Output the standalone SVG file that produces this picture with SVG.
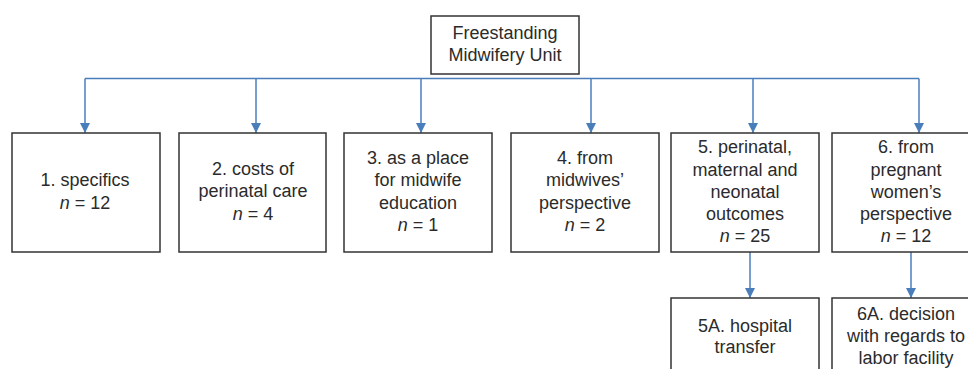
<svg xmlns="http://www.w3.org/2000/svg" width="968" height="369" viewBox="0 0 968 369">
<style>
.box{fill:#fff;stroke:#333;stroke-width:1.5}
.t{font-family:"Liberation Sans",Arial,sans-serif;font-size:18px;fill:#2b2b2b;text-anchor:middle}
.c{fill:none;stroke:#4a7ebb;stroke-width:1.5}
</style>
<defs>
<marker id="ah" markerWidth="10" markerHeight="10" refX="10" refY="5" orient="auto" markerUnits="userSpaceOnUse" viewBox="0 0 10 10">
<path d="M0,0 L10,5 L0,10 z" fill="#4a7ebb"/>
</marker>
</defs>
<rect width="968" height="369" fill="#fff"/>
<g id="connectors">
<path class="c" d="M85,78.5 H919"/>
<path class="c" d="M85,78.5 V133" marker-end="url(#ah)"/>
<path class="c" d="M256,78.5 V133" marker-end="url(#ah)"/>
<path class="c" d="M421,78.5 V133" marker-end="url(#ah)"/>
<path class="c" d="M591,78.5 V133" marker-end="url(#ah)"/>
<path class="c" d="M753,78.5 V133" marker-end="url(#ah)"/>
<path class="c" d="M919,78.5 V133" marker-end="url(#ah)"/>
<path class="c" d="M750,252 V298" marker-end="url(#ah)"/>
<path class="c" d="M911,252 V298" marker-end="url(#ah)"/>
</g>
<g id="root">
<rect class="box" x="431" y="16" width="148" height="58"/>
<text class="t" x="505" y="38.5">Freestanding</text>
<text class="t" x="505" y="61">Midwifery Unit</text>
</g>
<g id="n1">
<rect class="box" x="12" y="133" width="148" height="119"/>
<text class="t" x="85" y="186">1. specifics</text>
<text class="t" x="85" y="208.5"><tspan font-style="italic">n</tspan> = 12</text>
</g>
<g id="n2">
<rect class="box" x="179" y="133" width="147" height="119"/>
<text class="t" x="253" y="174.5">2. costs of</text>
<text class="t" x="253" y="197">perinatal care</text>
<text class="t" x="253" y="219.5"><tspan font-style="italic">n</tspan> = 4</text>
</g>
<g id="n3">
<rect class="box" x="344" y="133" width="148" height="119"/>
<text class="t" x="418" y="163.5">3. as a place</text>
<text class="t" x="418" y="186">for midwife</text>
<text class="t" x="418" y="208.5">education</text>
<text class="t" x="418" y="231"><tspan font-style="italic">n</tspan> = 1</text>
</g>
<g id="n4">
<rect class="box" x="511" y="133" width="148" height="119"/>
<text class="t" x="585" y="163.5">4. from</text>
<text class="t" x="585" y="186">midwives’</text>
<text class="t" x="585" y="208.5">perspective</text>
<text class="t" x="585" y="231"><tspan font-style="italic">n</tspan> = 2</text>
</g>
<g id="n5">
<rect class="box" x="671" y="133" width="148" height="119"/>
<text class="t" x="745" y="153">5. perinatal,</text>
<text class="t" x="745" y="175.5">maternal and</text>
<text class="t" x="745" y="198">neonatal</text>
<text class="t" x="745" y="220">outcomes</text>
<text class="t" x="745" y="242"><tspan font-style="italic">n</tspan> = 25</text>
</g>
<g id="n6">
<rect class="box" x="832" y="133" width="148" height="119"/>
<text class="t" x="906" y="153">6. from</text>
<text class="t" x="906" y="175.5">pregnant</text>
<text class="t" x="906" y="198">women’s</text>
<text class="t" x="906" y="220">perspective</text>
<text class="t" x="906" y="242"><tspan font-style="italic">n</tspan> = 12</text>
</g>
<g id="n5a">
<rect class="box" x="671" y="298" width="148" height="90"/>
<text class="t" x="745" y="332">5A. hospital</text>
<text class="t" x="745" y="353">transfer</text>
</g>
<g id="n6a">
<rect class="box" x="832" y="298" width="148" height="90"/>
<text class="t" x="906" y="319.5">6A. decision</text>
<text class="t" x="906" y="342">with regards to</text>
<text class="t" x="906" y="364">labor facility</text>
</g>
</svg>
